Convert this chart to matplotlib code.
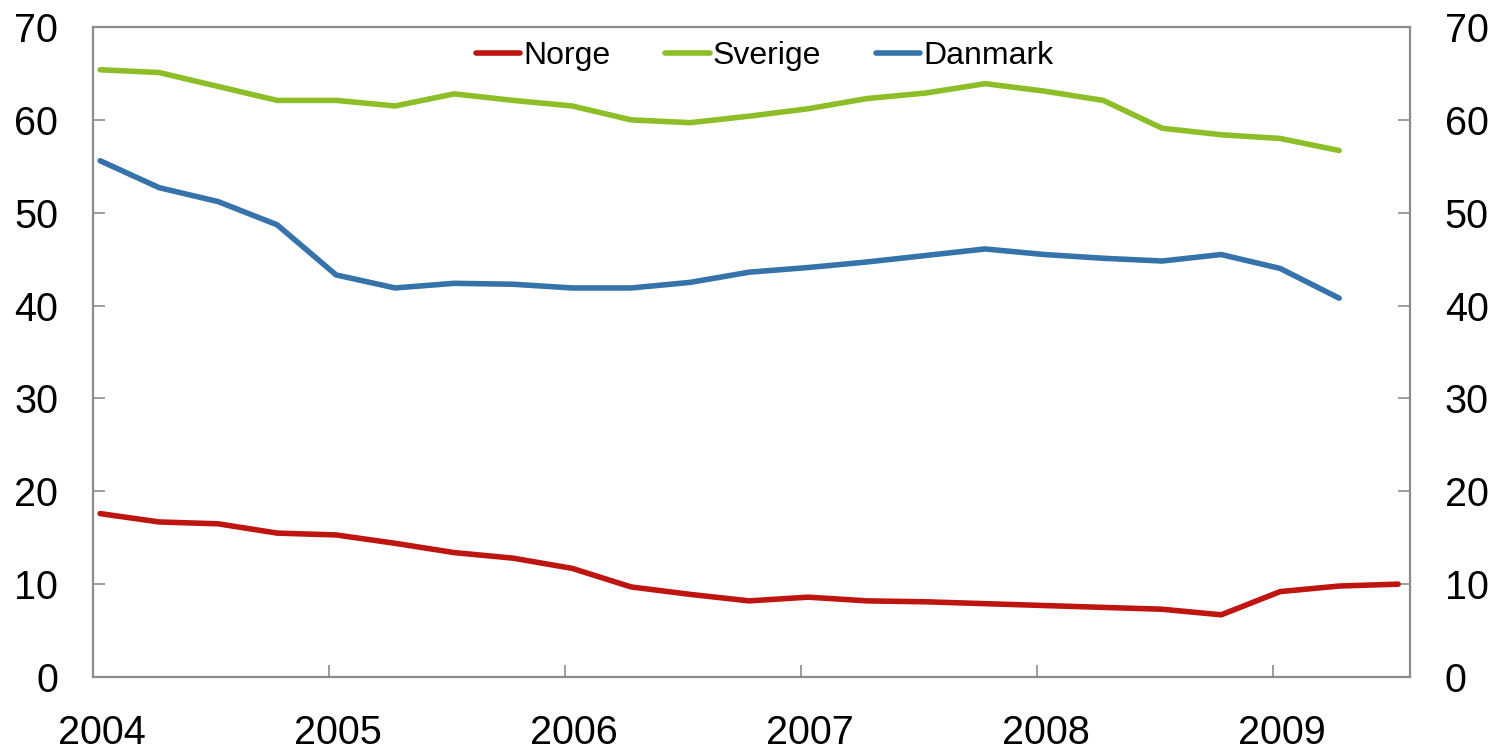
import matplotlib.pyplot as plt
import matplotlib.transforms as mtransforms
import numpy as np

plt.rcParams['font.family'] = ['Liberation Sans', 'DejaVu Sans']

# quarterly series, 2004Q1 onwards
norge = [17.6, 16.7, 16.5, 15.5, 15.3, 14.4, 13.4, 12.8, 11.7, 9.7, 8.9, 8.2,
         8.6, 8.2, 8.1, 7.9, 7.7, 7.5, 7.3, 6.7, 9.2, 9.8, 10.0]
sverige = [65.4, 65.1, 63.6, 62.1, 62.1, 61.5, 62.8, 62.1, 61.5, 60.0, 59.7, 60.4,
           61.2, 62.3, 62.9, 63.9, 63.1, 62.1, 59.1, 58.4, 58.0, 56.7]
danmark = [55.6, 52.7, 51.2, 48.7, 43.3, 41.9, 42.4, 42.3, 41.9, 41.9, 42.5, 43.6,
           44.1, 44.7, 45.4, 46.1, 45.5, 45.1, 44.8, 45.5, 44.0, 40.8]
years = [2004, 2005, 2006, 2007, 2008, 2009]
start_year = 2004

def qpos(n):
    return start_year + 0.03 + 0.25 * np.arange(n)

fig = plt.figure(figsize=(14.96, 7.53), dpi=100)
ax = fig.add_axes([0.0622, 0.1009, 0.8803, 0.8632])

ax.plot(qpos(len(norge)), norge, color='#BE1510', lw=4.0, label='Norge',
        solid_capstyle='round')
ax.plot(qpos(len(sverige)), sverige, color='#8DBE27', lw=4.0, label='Sverige',
        solid_capstyle='round')
ax.plot(qpos(len(danmark)), danmark, color='#3673AA', lw=4.0, label='Danmark',
        solid_capstyle='round')

ax.set_xlim(2004, 2009.58)
ax.set_ylim(0, 70)
ax.set_yticks(range(0, 71, 10))
ax.set_xticks(years)
ax.set_xticklabels([str(y) for y in years])

grey = '#8C8C8C'
for side in ['left', 'right', 'bottom', 'top']:
    ax.spines[side].set_color(grey)
    ax.spines[side].set_linewidth(1.6)

ax.tick_params(axis='y', direction='in', length=8.5, width=1.2, color=grey,
               labelsize=28.5, pad=25, left=True, right=True,
               labelleft=True, labelright=True)
ax.tick_params(axis='x', direction='in', length=8.5, width=1.2, color=grey,
               labelsize=28.5, pad=26.5, top=False)

offset = mtransforms.ScaledTranslation(9 / 100, 0, fig.dpi_scale_trans)
for lab in ax.get_xticklabels():
    lab.set_transform(lab.get_transform() + offset)

ax.legend(loc='center', bbox_to_anchor=(0.51, 0.955), ncol=3, frameon=False,
          fontsize=23, handlelength=1.4, handletextpad=0.1,
          columnspacing=1.7, borderaxespad=0)

fig.savefig('out.png', dpi=100)
